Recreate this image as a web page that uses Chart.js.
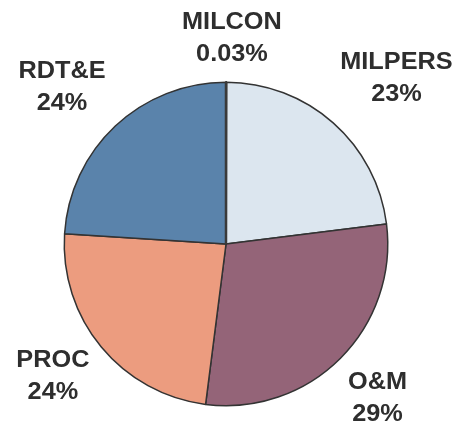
<!DOCTYPE html>
<html>
<head>
<meta charset="utf-8">
<script src="https://cdn.jsdelivr.net/npm/chart.js@4/dist/chart.umd.min.js"></script>
<style>
    html, body { margin: 0; padding: 0; background: #fff; }
    canvas { display: block; }
</style>
</head>
<body>
<canvas id="pie" width="473" height="431"></canvas>
<script>
// budget shares, clockwise from 12 o'clock
const categories = ['MILCON', 'MILPERS', 'O&M', 'PROC', 'RDT&E'];
const shares = [0.03, 23, 29, 24, 24];

const sliceColors = ['#4a4a4a', '#dce6ef', '#946478', '#ec9c7f', '#5a83ab'];
// label placement: distance as a multiple of the radius, and a small turn (degrees) off the slice middle
const labelReach = [1.27, 1.47, 1.34, 1.35, 1.40];
const labelTurn = [1.6, 4.3, 0.6, 2.0, -3.2];

const pieLabels = {
    id: 'pieLabels',
    afterDatasetsDraw(chart) {
        const ctx = chart.ctx;
        const meta = chart.getDatasetMeta(0);

        // the sliver for MILCON gets covered by its neighbours, draw it again on top
        meta.data[0].draw(ctx);

        meta.data.forEach((arc, i) => {
            const p = arc.getProps(['x', 'y', 'startAngle', 'endAngle', 'outerRadius'], true);
            const mid = (p.startAngle + p.endAngle) / 2 + labelTurn[i] * Math.PI / 180;
            const r = p.outerRadius * labelReach[i];
            const lx = p.x + Math.cos(mid) * r;
            const ly = p.y + Math.sin(mid) * r;

            ctx.save();
            ctx.translate(lx, ly);
            ctx.scale(1.1, 1);  // the original lettering is a bit wide
            ctx.font = 'bold 23px "Liberation Sans", Arial, sans-serif';
            ctx.fillStyle = '#2e2e2e';
            ctx.textAlign = 'center';
            ctx.textBaseline = 'middle';
            ctx.fillText(categories[i], 0, -16);
            ctx.fillText(shares[i] + '%', 0, 16);
            ctx.restore();
        });
    }
};

new Chart(document.getElementById('pie'), {
    type: 'pie',
    data: {
        labels: categories,
        datasets: [{
            data: shares,
            backgroundColor: sliceColors,
            borderColor: ['#3a3a3a', '#333', '#333', '#333', '#333'],
            borderWidth: [2.5, 1.5, 1.5, 1.5, 1.5]
        }]
    },
    options: {
        responsive: false,
        animation: false,
        layout: { padding: { top: 81, bottom: 24, left: 0, right: 21 } },
        plugins: {
            legend: { display: false },
            tooltip: { enabled: false }
        }
    },
    plugins: [pieLabels]
});
</script>
</body>
</html>
